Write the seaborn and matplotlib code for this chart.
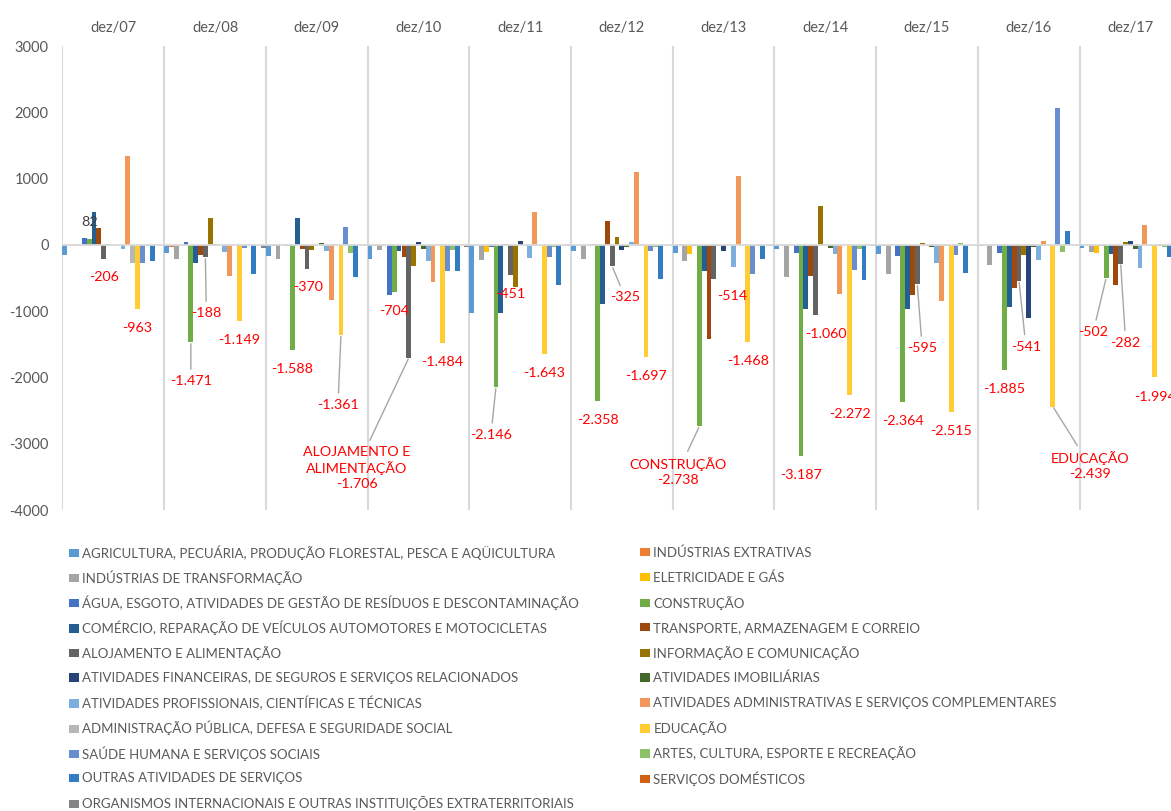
import numpy as np
import pandas as pd
import matplotlib
matplotlib.use("Agg")
import matplotlib.pyplot as plt
import seaborn as sns
from matplotlib.patches import Patch

# ---------------- data ----------------
periods = ["dez/07", "dez/08", "dez/09", "dez/10", "dez/11", "dez/12",
           "dez/13", "dez/14", "dez/15", "dez/16", "dez/17"]

sectors = [
    "AGRICULTURA, PECUÁRIA, PRODUÇÃO FLORESTAL, PESCA E AQÜICULTURA",
    "INDÚSTRIAS EXTRATIVAS",
    "INDÚSTRIAS DE TRANSFORMAÇÃO",
    "ELETRICIDADE E GÁS",
    "ÁGUA, ESGOTO, ATIVIDADES DE GESTÃO DE RESÍDUOS E DESCONTAMINAÇÃO",
    "CONSTRUÇÃO",
    "COMÉRCIO, REPARAÇÃO DE VEÍCULOS AUTOMOTORES E MOTOCICLETAS",
    "TRANSPORTE, ARMAZENAGEM E CORREIO",
    "ALOJAMENTO E ALIMENTAÇÃO",
    "INFORMAÇÃO E COMUNICAÇÃO",
    "ATIVIDADES FINANCEIRAS, DE SEGUROS E SERVIÇOS RELACIONADOS",
    "ATIVIDADES IMOBILIÁRIAS",
    "ATIVIDADES PROFISSIONAIS, CIENTÍFICAS E TÉCNICAS",
    "ATIVIDADES ADMINISTRATIVAS E SERVIÇOS COMPLEMENTARES",
    "ADMINISTRAÇÃO PÚBLICA, DEFESA E SEGURIDADE SOCIAL",
    "EDUCAÇÃO",
    "SAÚDE HUMANA E SERVIÇOS SOCIAIS",
    "ARTES, CULTURA, ESPORTE E RECREAÇÃO",
    "OUTRAS ATIVIDADES DE SERVIÇOS",
    "SERVIÇOS DOMÉSTICOS",
    "ORGANISMOS INTERNACIONAIS E OUTRAS INSTITUIÇÕES EXTRATERRITORIAIS",
]

colors = ["#5B9BD5", "#ED7D31", "#A5A5A5", "#FFC000", "#4472C4", "#70AD47",
          "#255E91", "#9E480E", "#636363", "#997300", "#264478", "#43682B",
          "#7CAFDD", "#F1975A", "#B7B7B7", "#FFCD33", "#698ED0", "#8CC168",
          "#327DC2", "#D26012", "#848484"]

agricultura = [-150, -130, -175, -210, -1025, -90, -120, -65, -135, -20, -50]
extrativas = [-8, -25, -10, -10, -5, -6, -5, -5, -10, -5, -5]
transformacao = [-15, -220, -210, -75, -225, -215, -240, -480, -440, -300, -115]
eletricidade = [-5, -5, -6, -10, -115, -5, -140, -5, -5, -5, -125]
agua = [105, 50, -10, -750, -30, 15, -20, -120, -175, -125, -10]
construcao = [82, -1471, -1588, -704, -2146, -2358, -2738, -3187, -2364, -1885, -502]
comercio = [500, -280, 410, -100, -1030, -890, -400, -975, -965, -940, -140]
transporte = [250, -150, -55, -190, 15, 360, -1420, -475, -750, -655, -600]
alojamento = [-206, -188, -370, -1706, -451, -325, -514, -1060, -595, -541, -282]
informacao = [10, 400, -85, -315, -640, 120, -20, 580, 30, -150, 40]
financeiras = [5, 15, 5, 50, 55, -75, -95, -5, -5, -1100, 65]
imobiliarias = [5, 5, 25, -65, 5, -25, -5, -50, -35, -35, -65]
profissionais = [-70, -110, -100, -240, -200, 45, -335, -135, -275, -225, -350]
administrativas = [1340, -470, -830, -555, 495, 1105, 1045, -740, -840, 65, 305]
adm_publica = [-270, -5, -5, -5, -5, -20, -5, -5, -15, -5, -20]
educacao = [-963, -1149, -1361, -1484, -1643, -1697, -1468, -2272, -2515, -2439, -1994]
saude = [-270, -50, 265, -390, -190, -100, -440, -375, -160, 2065, -20]
artes = [-20, -5, -130, -75, -25, -25, -20, -66, 30, -115, -25]
outras_servicos = [-250, -433, -480, -400, -605, -515, -215, -530, -430, 215, -190]
domesticos = [-3, -8, -5, -5, -6, -4, -5, -7, -5, -4, -5]
organismos = [-5, -45, -5, -25, -20, -5, -15, -20, -5, -5, -5]

series_values = [agricultura, extrativas, transformacao, eletricidade, agua,
                 construcao, comercio, transporte, alojamento, informacao,
                 financeiras, imobiliarias, profissionais, administrativas,
                 adm_publica, educacao, saude, artes, outras_servicos,
                 domesticos, organismos]

# labelled bars per period: (series index, dx px, dy px (down), leader line, prefix)
label_specs = [
    [(5, 0, -17, False, ""), (8, 0, 18, False, ""), (15, 0, 19, False, "")],
    [(5, 0, 39, True, ""), (8, 1, 56, True, ""), (15, 0, 19, False, "")],
    [(5, 0, 19, False, ""), (8, 1, 18, False, ""), (15, -3, 70, True, "")],
    [(5, 0, 19, False, ""), (8, -52, 110, True, "ALOJAMENTO E\nALIMENTAÇÃO\n"), (15, 0, 19, False, "")],
    [(5, -5, 48, True, ""), (8, 0, 19, False, ""), (15, 0, 19, False, "")],
    [(5, 0, 19, False, ""), (8, 13, 31, True, ""), (15, 0, 19, False, "")],
    [(5, -21, 45, True, "CONSTRUÇÃO\n"), (8, 18, 17, False, ""), (15, 0, 19, False, "")],
    [(5, 0, 19, False, ""), (8, 10, 19, False, ""), (15, 0, 19, False, "")],
    [(5, 0, 19, False, ""), (8, 5, 64, True, ""), (15, 0, 19, False, "")],
    [(5, 0, 19, False, ""), (8, 7, 66, True, ""), (15, 37, 59, True, "EDUCAÇÃO\n")],
    [(5, -13, 54, True, ""), (8, 5, 79, True, ""), (15, 0, 20, False, "")],
]

rows = []
for sec, vals in zip(sectors, series_values):
    for per, v in zip(periods, vals):
        rows.append({"period": per, "sector": sec, "value": v})
df = pd.DataFrame(rows)

# ---------------- figure ----------------
sns.set_theme(style="white")
plt.rcParams["font.family"] = ["Lato", "DejaVu Sans"]

W, H = 1171, 811
fig = plt.figure(figsize=(W / 100, H / 100), dpi=100)
ax = fig.add_axes([62.5 / W, 1 - 510 / H, 1118.7 / W, 464 / H])

sns.barplot(data=df, x="period", y="value", hue="sector", order=periods,
            hue_order=sectors, palette=colors, width=1.0, gap=0,
            saturation=1, linewidth=0, errorbar=None, legend=False, ax=ax)

ax.set_xlim(-0.5, 10.5)
ax.set_ylim(-4000, 3000)
ax.set_yticks(np.arange(-4000, 3001, 1000))
ax.set_yticklabels([f"{int(t)}" for t in np.arange(-4000, 3001, 1000)])
ax.set_xlabel("")
ax.set_ylabel("")
for sp in ax.spines.values():
    sp.set_visible(False)

ax.xaxis.tick_top()
ax.set_xticks(range(len(periods)))
ax.set_xticklabels(periods)
ax.set_xticks(np.arange(-0.5, len(periods) + 0.1, 1), minor=True)
ax.tick_params(axis="x", which="both", length=0, pad=8, labelsize=10.5,
               colors="#595959")
ax.tick_params(axis="y", length=0, pad=10, labelsize=10.5, colors="#595959")
ax.grid(False)
ax.grid(which="minor", axis="x", color="#D9D9D9", lw=1.5)
ax.set_axisbelow(True)
ax.axhline(0, color="#D9D9D9", lw=1.3, zorder=3)

# ---------------- data labels ----------------
for g, specs in enumerate(label_specs):
    for s, dx, dy, leader, prefix in specs:
        cont = ax.containers[s]
        rect = min(cont.patches, key=lambda r: abs(r.get_x() + r.get_width() / 2 - g))
        x = rect.get_x() + rect.get_width() / 2
        y = rect.get_y() + rect.get_height()
        v = series_values[s][g]
        txt = f"{v:,}".replace(",", ".")
        col = "#FF0000" if v < 0 else "#404040"
        ax.annotate(prefix + txt, xy=(x, y), xytext=(dx, -dy),
                    textcoords="offset pixels", ha="center", va="center",
                    multialignment="center", fontsize=10.3, color=col,
                    linespacing=1.25, annotation_clip=False, zorder=5,
                    arrowprops=(dict(arrowstyle="-", color="#A6A6A6", lw=1,
                                     shrinkA=2, shrinkB=1) if leader else None))

# ---------------- legend (two columns, row-wise order) ----------------
leg_kw = dict(loc="center left", frameon=False, fontsize=9.5,
              labelcolor="#595959", handlelength=0.74, handleheight=0.6,
              handletextpad=0.27, borderpad=0, borderaxespad=0)
col_x = [69, 640]
row_y0, row_dy = 552.5, 25.1
for i, (sec, c) in enumerate(zip(sectors, colors)):
    r, k = divmod(i, 2)
    lg = fig.legend([Patch(facecolor=c, edgecolor="none")], [sec],
                    bbox_to_anchor=(col_x[k] / W, 1 - (row_y0 + r * row_dy) / H),
                    **leg_kw)

fig.savefig("out.png", dpi=100)
